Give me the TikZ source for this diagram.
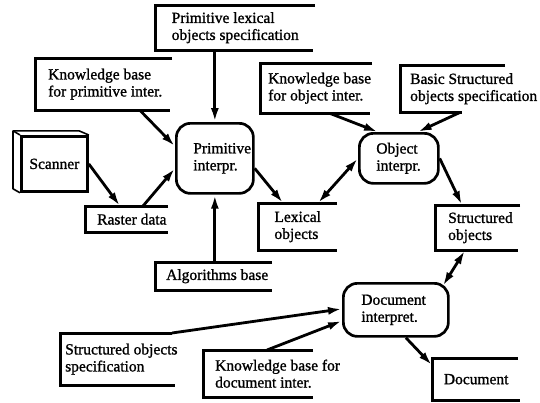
\documentclass[tikz,border=0pt]{standalone}
\usepackage{fontspec}
\setmainfont{Liberation Serif}[FakeBold=1.2]
\usetikzlibrary{arrows.meta,calc}
\newcommand\openstore[3]{\draw[storeline] ($(#1.north west)+(#2,0)$) -- (#1.north west) -- (#1.south west) -- ++(#3,0);}
\begin{document}
\begin{tikzpicture}[x=1pt,y=-1pt,
  every node/.style={font=\fontsize{15.5}{17}\selectfont},
  store/.style={anchor=north west, inner ysep=0pt, align=left},
  storeline/.style={line width=3pt, line join=miter},
  proc/.style={draw, line width=2.7pt, rounded corners=14pt, anchor=north west, inner ysep=0pt, align=left},
  flow/.style={line width=2.8pt, -{Latex[length=14pt,width=8pt]}},
  biflow/.style={line width=2.8pt, {Latex[length=14pt,width=8pt]}-{Latex[length=14pt,width=8pt]}}]
\useasboundingbox (0,0) rectangle (540,402);

% data stores
\node[store, minimum width=160, minimum height=45, inner xsep=8] (plex) at (155,5) {Primitive lexical\\objects specification};
\node[store, minimum width=137, minimum height=52, inner xsep=13] (kbp) at (35,58) {Knowledge base\\for primitive inter.};
\node[store, minimum width=112, minimum height=50, inner xsep=8] (kbo) at (260,63) {Knowledge base\\for object inter.};
\node[store, minimum width=105, minimum height=47, inner xsep=10] (bso) at (400,65) {Basic Structured\\objects specification};
\node[store, minimum width=83, minimum height=26, inner xsep=12] (raster) at (85,206) {Raster data};
\node[store, minimum width=79, minimum height=47, inner xsep=10] (lex) at (258,203) {Lexical\\objects};
\node[store, minimum width=85, minimum height=45, inner xsep=13] (struct) at (435,205) {Structured\\objects};
\node[store, minimum width=117, minimum height=28, inner xsep=11] (alg) at (155,262) {Algorithms base};
\node[store, minimum width=115, minimum height=52, inner xsep=5] (sos) at (60,333) {Structured objects\\specification};
\node[store, minimum width=110, minimum height=47, inner xsep=12] (kbd) at (203,350) {Knowledge base for\\document inter.};
\node[store, minimum width=88, minimum height=42, inner xsep=11] (docu) at (432,358) {Document};

\openstore{plex}{160}{158}
\openstore{kbp}{137}{135}
\openstore{kbo}{112}{110}
\openstore{bso}{105}{62}
\openstore{raster}{83}{83}
\openstore{lex}{79}{79}
\openstore{struct}{85}{83}
\openstore{alg}{117}{117}
\openstore{sos}{112}{115}
\openstore{kbd}{110}{110}
\openstore{docu}{86}{88}

% processes
\node[proc, minimum height=70, inner xsep=17, text width=43] (prim) at (175,122) {Primitive\\interpr.};
\node[proc, minimum height=50, inner xsep=17, text width=45] (obj) at (358,132) {Object\\interpr.};
\node[proc, minimum height=53, inner xsep=18, text width=69] (doc) at (342,282) {Document\\interpret.};

% scanner (terminator)
\node[draw, line width=2.8pt, anchor=north west, minimum width=66, minimum height=55, inner sep=0pt] (scan) at (20,135) {Scanner};
\draw[line width=1.6pt, line join=round] (scan.south west) -- ++(-7,-4) -- ++(0,-58) -- ++(66,0) -- (scan.north east);
\draw[line width=1.6pt] ($(scan.south west)+(-7,-62)$) -- (scan.north west);

% flows
\draw[flow] ($(kbp.south west)+(105,0)$) -- ($(prim.west)+(0,-12)$);
\draw[flow] (prim.north |- plex.south west) -- (prim.north);
\draw[flow] (scan.east) -- ($(raster.north west)+(35,0)$);
\draw[flow] ($(raster.north west)+(58,0)$) -- ($(prim.west)+(0,10)$);
\draw[flow] (prim.south |- alg.north west) -- (prim.south);
\draw[flow] ($(prim.east)+(0,10)$) -- ($(lex.north west)+(25,0)$);
\draw[flow] ($(kbo.south west)+(70,0)$) -- ($(obj.north west)+(20,0)$);
\draw[flow] ($(bso.south west)+(60,0)$) -- ($(obj.north east)+(-22,0)$);
\draw[biflow] (obj.west) -- ($(lex.north west)+(60,0)$);
\draw[flow] (obj.east) -- ($(struct.north west)+(27,0)$);
\draw[biflow] ($(doc.north east)+(-7,4)$) -- ($(struct.south west)+(30,0)$);
\draw[flow] ($(sos.north west)+(112,0)$) -- ($(doc.west)+(0,-1)$);
\draw[flow] ($(kbd.north west)+(64,0)$) -- ($(doc.west)+(0,11)$);
\draw[flow] ($(doc.south)+(10,0)$) -- ($(docu.west)+(0,-14)$);
\end{tikzpicture}
\end{document}
